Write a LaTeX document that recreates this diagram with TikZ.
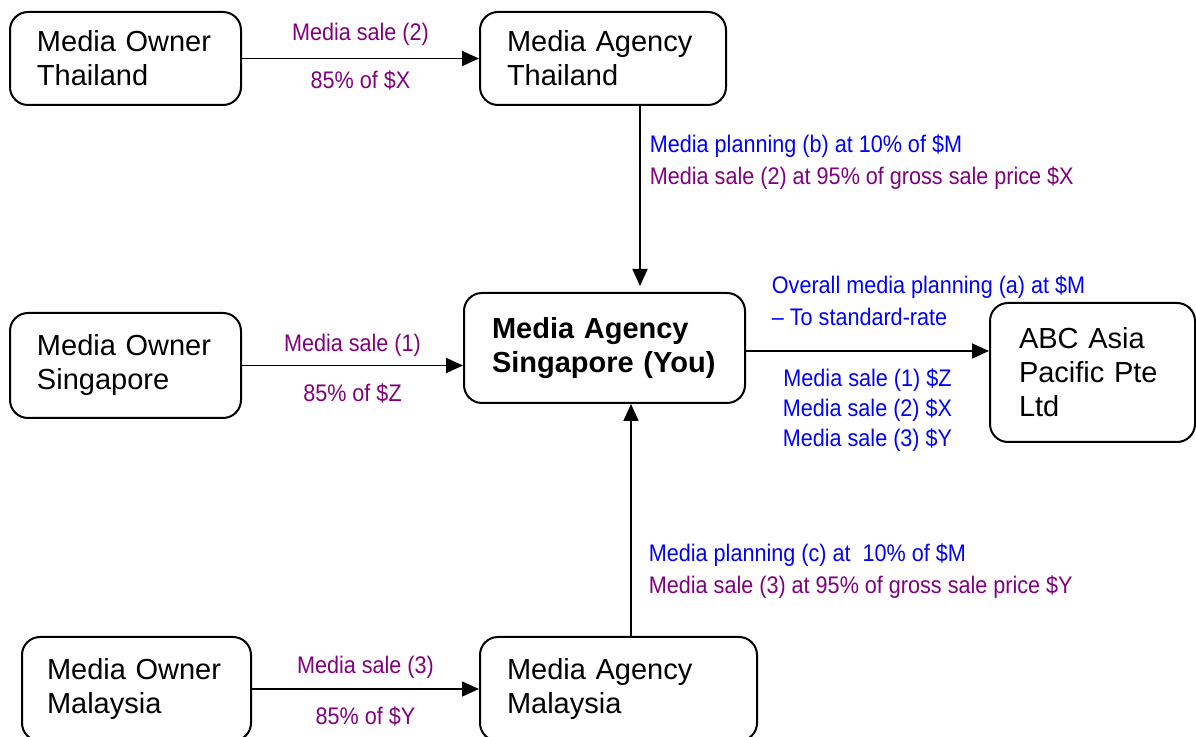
\documentclass[tikz,border=0pt]{standalone}
\usepackage{fontspec}
\setmainfont{Liberation Sans}
\newfontfamily\labelfont[FakeStretch=0.9]{Liberation Sans}
\usetikzlibrary{positioning,arrows.meta}

\definecolor{salepurple}{RGB}{128,0,128}
\definecolor{planblue}{RGB}{0,0,255}

\tikzset{
	party/.style={draw, line width=1pt, rounded corners=9pt, inner sep=0pt, align=left,
		font=\fontsize{14.5}{17}\selectfont},
	flow/.style={-{Triangle[length=8.5pt,width=7.5pt]}, line width=0.9pt},
	sale/.style={text=salepurple, inner sep=0pt, font=\labelfont\fontsize{12}{16}\selectfont},
	plan/.style={text=planblue, inner sep=0pt, font=\labelfont\fontsize{12}{16}\selectfont},
}

\begin{document}
\begin{tikzpicture}[x=0.5pt, y=-0.5pt]
	\useasboundingbox (0,0) rectangle (1196,737);
	\clip (0,0) rectangle (1196,737);

	% Boxes:
	\node[party, minimum width=115.5pt, minimum height=46.5pt, text width=88.5pt] (ownTH) at (125.5, 58.5) {Media Owner\\Thailand};
	\node[party, minimum width=123pt, minimum height=46.5pt, text width=96pt] (agTH) at (603, 58.5) {Media Agency\\Thailand};
	\node[party, minimum width=115.5pt, minimum height=52.5pt, text width=88.5pt] (ownSG) at (125.5, 365.5) {Media Owner\\Singapore};
	\node[party, minimum width=140.5pt, minimum height=55pt, text width=112.5pt,
		font=\fontsize{14.5}{17}\selectfont\bfseries] (agSG) at (604.5, 348) {Media Agency\\Singapore (You)};
	\node[party, minimum width=102.5pt, minimum height=69.5pt, text width=73.5pt] (abc) at (1092.5, 372.5) {ABC Asia\\Pacific Pte\\Ltd};
	\node[party, minimum width=114.5pt, minimum height=52pt, text width=89.5pt] (ownMY) at (136.5, 689) {Media Owner\\Malaysia};
	\node[party, minimum width=138.5pt, minimum height=52pt, text width=111.5pt] (agMY) at (618.5, 689) {Media Agency\\Malaysia};

	% Arrows:
	\draw[flow] (ownTH) -- (agTH)
		node[sale, midway, above=6pt] {Media sale (2)}
		node[sale, midway, below=5.5pt] {85\% of \$X};
	\draw[flow, shorten >=3pt] ([xshift=18.5pt]agTH.south) -- ([xshift=18.5pt]agTH.south |- agSG.north)
		node[plan, pos=0.3, right=4.5pt, align=left] {Media planning (b) at 10\% of \$M\\
			\textcolor{salepurple}{Media sale (2) at 95\% of gross sale price \$X}};
	\draw[flow] (ownSG) -- (ownSG -| agSG.west)
		node[sale, midway, above=4pt] {Media sale (1)}
		node[sale, midway, below=8.5pt] {85\% of \$Z};
	\draw[flow] ([yshift=-1.5pt]agSG.east) -- ([yshift=-1.5pt]agSG.east -| abc.west)
		node[plan, pos=0, anchor=south west, xshift=12.5pt, yshift=12pt, align=left] {Overall media planning (a) at \$M\\– To standard-rate}
		node[plan, midway, below=8.5pt, align=center, font=\labelfont\fontsize{12}{15}\selectfont] {Media sale (1) \$Z\\Media sale (2) \$X\\Media sale (3) \$Y};
	\draw[flow] ([xshift=6.25pt]agMY.north) -- ([xshift=6.25pt]agMY.north |- agSG.south)
		node[plan, pos=0.28, right=8.5pt, align=left] {Media planning (c) at\ \ 10\% of \$M\\
			\textcolor{salepurple}{Media sale (3) at 95\% of gross sale price \$Y}};
	\draw[flow] (ownMY) -- (agMY)
		node[sale, midway, above=5pt] {Media sale (3)}
		node[sale, midway, below=8.5pt] {85\% of \$Y};

\end{tikzpicture}
\end{document}
